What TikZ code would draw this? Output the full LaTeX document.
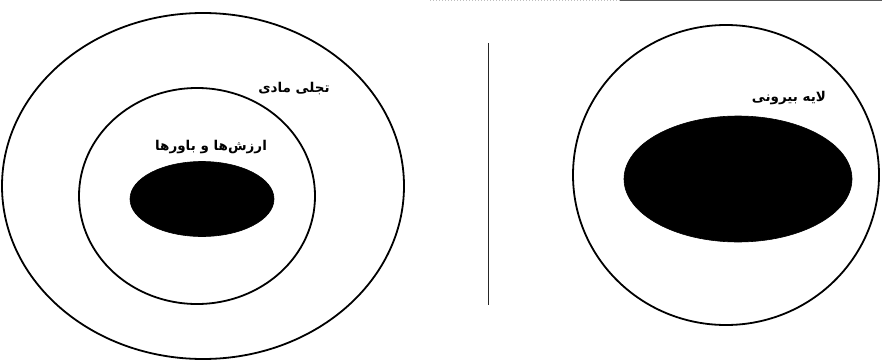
\documentclass[tikz,border=0pt]{standalone}
\usepackage{fontspec}
\usetikzlibrary{shapes.geometric}
\TeXXeTstate=1
\newfontfamily\arabicfont[Script=Arabic, BoldFont={DejaVu Sans Bold}]{DejaVu Sans}
\begin{document}
\begin{tikzpicture}[x=1pt,y=-1pt,
  ring/.style={ellipse, draw=black, line width=1.8pt, inner sep=0pt, fill=none},
  core/.style={ellipse, fill=black, draw=black, line width=0.6pt, inner sep=0pt},
  lbl/.style={font=\arabicfont\bfseries\fontsize{13.5}{16}\selectfont, inner sep=0pt, text=black}]
\useasboundingbox (0,0) rectangle (882,361);
% left diagram
\node[ring, minimum width=402pt, minimum height=346pt] (outerL) at (203,186) {};
\node[ring, minimum width=236pt, minimum height=216pt] (innerL) at (197,196) {};
\node[core, minimum width=144pt, minimum height=75pt] (coreL) at (202,199) {};
\node[lbl] (tMat) at (294,89) {\beginR تجلی مادی\endR};
\node[lbl] (tVal) at (211,147) {\beginR ارزش‌ها و باورها\endR};
% divider
\coordinate (dTop) at (488,43);
\coordinate (dBot) at (488,305);
\draw[line width=0.9pt, black!85] (dTop) -- (dBot);
% right diagram
\node[ring, minimum width=306pt, minimum height=300pt] (outerR) at (726,175) {};
\node[core, minimum width=228pt, minimum height=126pt] (coreR) at (738,179) {};
\node[lbl] (tOut) at (789,98) {\beginR لایه بیرونی\endR};
% scan edge at top
\coordinate (e1) at (430,0.6);
\coordinate (e2) at (620,0.6);
\coordinate (e3) at (882,0.6);
\draw[line width=1pt, black!25, dotted] (e1) -- (e2);
\draw[line width=1.2pt, black!65] (e2) -- (e3);
\end{tikzpicture}
\end{document}
